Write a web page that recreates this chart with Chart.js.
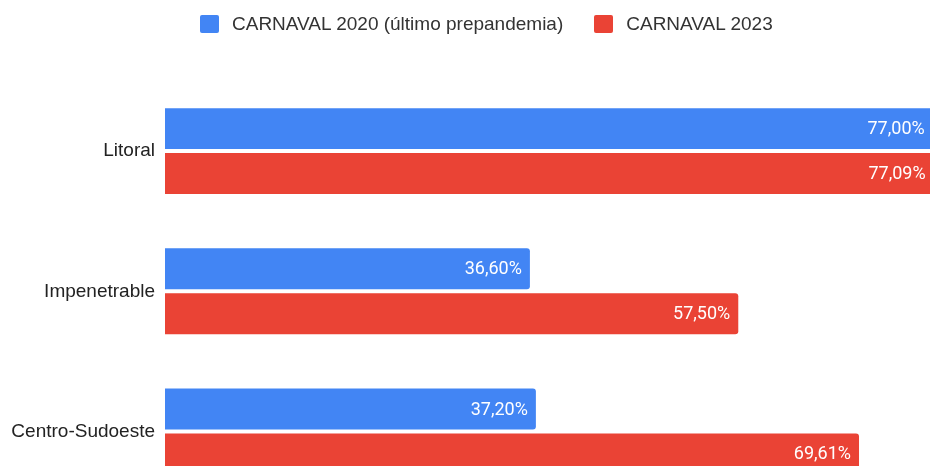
<!DOCTYPE html>
<html>
<head>
<meta charset="utf-8">
<script src="https://cdn.jsdelivr.net/npm/chart.js@4"></script>
<style>
  html, body { margin: 0; padding: 0; overflow: hidden; background: #fff; }
  #wrap { position: relative; width: 930px; height: 523px; }
  #legend {
    position: absolute; left: 200px; top: 13px;
    display: flex; align-items: center;
    font: 19px "Liberation Sans", Arial, sans-serif; color: #333;
  }
  .item { display: flex; align-items: center; margin-right: 31px; }
  .box { width: 19px; height: 18px; border-radius: 2px; margin-right: 13px; }
</style>
</head>
<body>
<div id="wrap">
  <canvas id="myChart"></canvas>
  <div id="legend"></div>
</div>
<script>
const categories = ["Litoral", "Impenetrable", "Centro-Sudoeste"];
const series2020 = [77.00, 36.60, 37.20];
const series2023 = [77.09, 57.50, 69.61];
const seriesNames = ["CARNAVAL 2020 (último prepandemia)", "CARNAVAL 2023"];
const colors = ["#4285F4", "#EA4335"];

// simple html legend (real text)
const legendEl = document.getElementById("legend");
seriesNames.forEach((name, i) => {
  const item = document.createElement("div");
  item.className = "item";
  const box = document.createElement("div");
  box.className = "box";
  box.style.background = colors[i];
  const txt = document.createElement("span");
  txt.textContent = name;
  item.appendChild(box);
  item.appendChild(txt);
  legendEl.appendChild(item);
});

const valueLabels = {
  id: "valueLabels",
  afterDatasetsDraw(chart) {
    const ctx = chart.ctx;
    ctx.save();
    ctx.font = '18px Roboto, "Liberation Sans", Arial, sans-serif';
    ctx.fillStyle = "#ffffff";
    ctx.textAlign = "right";
    ctx.textBaseline = "middle";
    chart.data.datasets.forEach((ds, di) => {
      chart.getDatasetMeta(di).data.forEach((bar, i) => {
        const txt = ds.data[i].toFixed(2).replace(".", ",") + "%";
        ctx.fillText(txt, bar.x - 8, bar.y + 1);
      });
    });
    ctx.restore();
  },
};

const ctx_1 = document.getElementById("myChart");

new Chart(ctx_1, {
  type: "bar",
  data: {
    labels: categories,
    datasets: [
      {
        label: seriesNames[0],
        data: series2020,
        backgroundColor: colors[0],
        borderRadius: 3,
        categoryPercentage: 0.641,
        barPercentage: 0.911,
      },
      {
        label: seriesNames[1],
        data: series2023,
        backgroundColor: colors[1],
        borderRadius: 3,
        categoryPercentage: 0.641,
        barPercentage: 0.911,
      },
    ],
  },
  options: {
    indexAxis: "y",
    responsive: true,
    maintainAspectRatio: false,
    animation: false,
    layout: {
      padding: { top: 81, left: 0, right: 0, bottom: 0 },
    },
    scales: {
      x: {
        display: false,
        min: 0,
        max: 76.73,
      },
      y: {
        grid: { display: false, drawTicks: false },
        border: { display: false },
        ticks: {
          padding: 10,
          color: "#222",
          font: { family: '"Liberation Sans", Arial, sans-serif', size: 19 },
        },
        afterFit(scale) {
          scale.width = 165;
        },
      },
    },
    plugins: {
      legend: { display: false },
      tooltip: { enabled: false },
    },
  },
  plugins: [valueLabels],
});
</script>
</body>
</html>
